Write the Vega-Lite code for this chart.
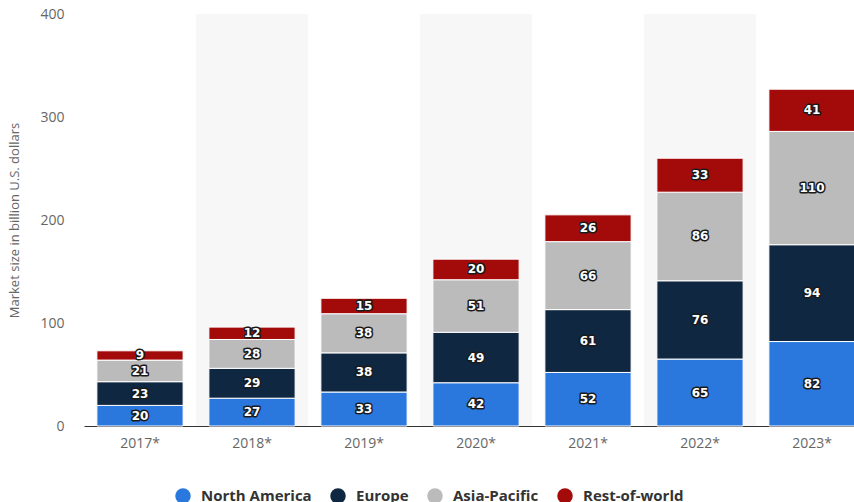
{
  "$schema": "https://vega.github.io/schema/vega-lite/v6.json",
  "autosize": {"type": "none"},
  "width": 784,
  "height": 412,
  "padding": {"left": 84, "top": 14, "right": 0, "bottom": 76},
  "background": "white",
  "config": {
    "view": {"stroke": null},
    "font": "Open Sans"
  },
  "datasets": {
    "market": [
      {"year": "2017*", "region": "North America", "value": 20},
      {"year": "2017*", "region": "Europe", "value": 23},
      {"year": "2017*", "region": "Asia-Pacific", "value": 21},
      {"year": "2017*", "region": "Rest-of-world", "value": 9},
      {"year": "2018*", "region": "North America", "value": 27},
      {"year": "2018*", "region": "Europe", "value": 29},
      {"year": "2018*", "region": "Asia-Pacific", "value": 28},
      {"year": "2018*", "region": "Rest-of-world", "value": 12},
      {"year": "2019*", "region": "North America", "value": 33},
      {"year": "2019*", "region": "Europe", "value": 38},
      {"year": "2019*", "region": "Asia-Pacific", "value": 38},
      {"year": "2019*", "region": "Rest-of-world", "value": 15},
      {"year": "2020*", "region": "North America", "value": 42},
      {"year": "2020*", "region": "Europe", "value": 49},
      {"year": "2020*", "region": "Asia-Pacific", "value": 51},
      {"year": "2020*", "region": "Rest-of-world", "value": 20},
      {"year": "2021*", "region": "North America", "value": 52},
      {"year": "2021*", "region": "Europe", "value": 61},
      {"year": "2021*", "region": "Asia-Pacific", "value": 66},
      {"year": "2021*", "region": "Rest-of-world", "value": 26},
      {"year": "2022*", "region": "North America", "value": 65},
      {"year": "2022*", "region": "Europe", "value": 76},
      {"year": "2022*", "region": "Asia-Pacific", "value": 86},
      {"year": "2022*", "region": "Rest-of-world", "value": 33},
      {"year": "2023*", "region": "North America", "value": 82},
      {"year": "2023*", "region": "Europe", "value": 94},
      {"year": "2023*", "region": "Asia-Pacific", "value": 110},
      {"year": "2023*", "region": "Rest-of-world", "value": 41}
    ],
    "bands": [
      {"year": "2018*"},
      {"year": "2020*"},
      {"year": "2022*"}
    ]
  },
  "layer": [
    {
      "data": {"name": "bands"},
      "mark": {"type": "bar", "color": "#f7f7f7", "width": {"band": 1}},
      "encoding": {
        "x": {"field": "year", "type": "nominal"},
        "y": {"datum": 0, "type": "quantitative"},
        "y2": {"datum": 400}
      }
    },
    {
      "data": {"name": "market"},
      "transform": [
        {"calculate": "indexof(['North America','Europe','Asia-Pacific','Rest-of-world'], datum.region)", "as": "ord"},
        {"stack": "value", "groupby": ["year"], "sort": [{"field": "ord", "order": "ascending"}], "as": ["v0", "v1"]},
        {"calculate": "(datum.v0 + datum.v1) / 2", "as": "vmid"}
      ],
      "layer": [
        {
          "mark": {"type": "bar", "width": {"band": 0.77}, "stroke": "white", "strokeWidth": 1},
          "encoding": {
            "x": {"field": "year", "type": "nominal"},
            "y": {"field": "v0", "type": "quantitative"},
            "y2": {"field": "v1"},
            "color": {
              "field": "region",
              "type": "nominal",
              "scale": {
                "domain": ["North America", "Europe", "Asia-Pacific", "Rest-of-world"],
                "range": ["#2a78de", "#0f2740", "#bbbbbb", "#a30b0b"]
              },
              "legend": {
                "title": null,
                "orient": "none",
                "direction": "horizontal",
                "legendX": 91,
                "legendY": 474,
                "symbolType": "circle",
                "symbolSize": 240,
                "symbolStrokeWidth": 0,
                "symbolOpacity": 1,
                "labelFont": "Open Sans",
                "labelFontSize": 15,
                "labelFontWeight": "bold",
                "labelColor": "#333333",
                "columnPadding": 18,
                "labelOffset": 10
              }
            }
          }
        },
        {
          "mark": {"type": "text", "font": "DejaVu Sans", "fontWeight": "bold", "fontSize": 12, "stroke": "#1a1a1a", "strokeWidth": 3, "strokeJoin": "round", "fill": "#1a1a1a", "baseline": "middle"},
          "encoding": {
            "x": {"field": "year", "type": "nominal"},
            "y": {"field": "vmid", "type": "quantitative"},
            "text": {"field": "value", "type": "quantitative"}
          }
        },
        {
          "mark": {"type": "text", "font": "DejaVu Sans", "fontWeight": "bold", "fontSize": 12, "fill": "white", "baseline": "middle"},
          "encoding": {
            "x": {"field": "year", "type": "nominal"},
            "y": {"field": "vmid", "type": "quantitative"},
            "text": {"field": "value", "type": "quantitative"}
          }
        }
      ]
    }
  ],
  "resolve": {"scale": {"x": "shared", "y": "shared"}},
  "encoding": {
    "x": {
      "field": "year",
      "type": "nominal",
      "scale": {"domain": ["2017*", "2018*", "2019*", "2020*", "2021*", "2022*", "2023*"], "paddingInner": 0, "paddingOuter": 0},
      "axis": {
        "title": null,
        "labelAngle": 0,
        "labelColor": "#666666",
        "labelFont": "Open Sans",
        "labelFontSize": 14,
        "labelPadding": 10,
        "ticks": false,
        "domainColor": "#333333",
        "domainWidth": 1,
        "grid": false
      }
    },
    "y": {
      "type": "quantitative",
      "scale": {"domain": [0, 400]},
      "axis": {
        "title": "Market size in billion U.S. dollars",
        "titleColor": "#666666",
        "titleFont": "Open Sans",
        "titleFontSize": 13,
        "titleFontWeight": "normal",
        "titlePadding": 18,
        "values": [0, 100, 200, 300, 400],
        "labelColor": "#666666",
        "labelFont": "Open Sans",
        "labelFontSize": 14,
        "labelPadding": 20,
        "ticks": false,
        "domain": false,
        "gridColor": "#bbbbbb",
        "gridDash": [1, 2],
        "gridWidth": 1
      }
    }
  }
}
